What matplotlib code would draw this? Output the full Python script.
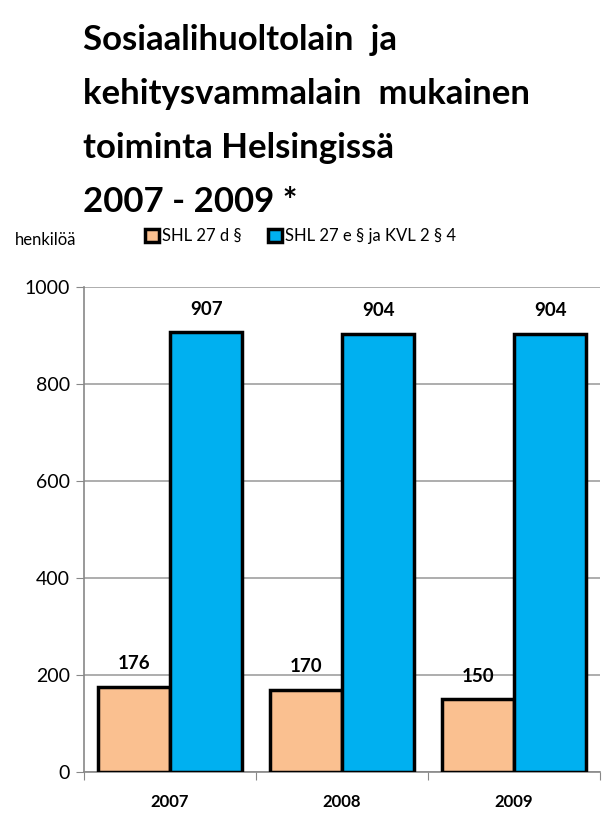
import matplotlib.pyplot as plt
import numpy as np

plt.rcParams['font.family'] = ['Lato', 'DejaVu Sans']

years = ['2007', '2008', '2009']
shl_d = [176, 170, 150]
shl_e = [907, 904, 904]
labels = ['SHL 27 d §', 'SHL 27 e § ja KVL 2 § 4']
colors = ['#FAC090', '#00B0F0']

fig = plt.figure(figsize=(6.03, 8.16), dpi=100)
ax = fig.add_axes([84/603, 1 - 772/816, 516/603, 485/816])

x = np.arange(len(years))
w = 0.42
b1 = ax.bar(x - w/2, shl_d, w, color=colors[0], edgecolor='black', linewidth=2.5, zorder=3)
b2 = ax.bar(x + w/2, shl_e, w, color=colors[1], edgecolor='black', linewidth=2.5, zorder=3)

for bars, vals in [(b1, shl_d), (b2, shl_e)]:
    for r, v in zip(bars, vals):
        ax.text(r.get_x() + r.get_width()/2, v + 30, str(v), ha='center', va='bottom',
                fontsize=13.5, fontweight='bold')

ax.set_xlim(-0.5, 2.5)
ax.set_ylim(0, 1000)
ax.set_yticks(range(0, 1001, 200))
ax.set_xticks([-0.5, 0.5, 1.5, 2.5], minor=False)
ax.set_xticklabels([])
ax.set_xticks(x, minor=True)
ax.set_xticklabels(years, minor=True, fontsize=12, fontweight='bold')
ax.tick_params(axis='x', which='minor', length=0, pad=16)
ax.tick_params(axis='x', which='major', length=6, color='#888888', direction='out')
ax.tick_params(axis='y', length=6, color='#888888', labelsize=14, pad=4)
ax.grid(axis='y', color='#A0A0A0', linewidth=1.2, zorder=0)
for s in ['top', 'right']:
    ax.spines[s].set_visible(False)
ax.spines['left'].set_color('#888888')
ax.spines['bottom'].set_color('#888888')
ax.spines['left'].set_linewidth(1.2)
ax.spines['bottom'].set_linewidth(1.2)

fig.text(83/603, 1 - 24/816, 'Sosiaalihuoltolain  ja\nkehitysvammalain  mukainen\ntoiminta Helsingissä\n2007 - 2009 *',
         ha='left', va='top', fontsize=25, fontweight='bold', linespacing=1.85)

fig.text(15/603, 1 - 240/816, 'henkilöä', ha='left', va='center', fontsize=12)
leg = fig.legend([b1, b2], labels, loc='center left', bbox_to_anchor=(137/603, 1 - 236/816),
                 ncol=2, frameon=False, fontsize=12, handlelength=0.8, handleheight=0.8,
                 handletextpad=0.2, columnspacing=1.6, borderpad=0)

fig.savefig('out.png', dpi=100)
